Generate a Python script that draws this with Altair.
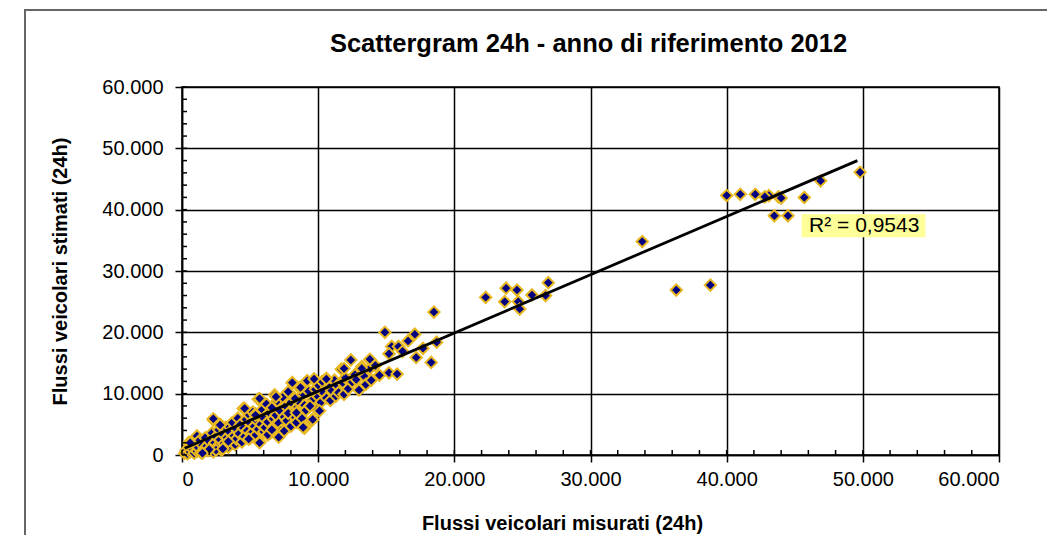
import altair as alt
import pandas as pd

# Measured (x) and estimated (y) 24h vehicle flows, in thousands of vehicles
misurati_k = [
    0.2, 0.3, 0.4, 0.5, 0.5, 0.6, 0.7, 0.8, 0.9, 1.0, 1.1, 1.1, 1.2, 1.3, 1.4, 1.5, 1.6, 1.7, 1.8, 1.9, 2.0,
    2.1, 2.2, 2.3, 2.3, 2.4, 2.5, 2.6, 2.7, 2.8, 2.8, 2.9, 3.0, 3.1, 3.2, 3.3, 3.4, 3.5, 3.5, 3.6, 3.7, 3.8, 3.9, 4.0, 4.0,
    4.1, 4.2, 4.3, 4.4, 4.5, 4.5, 4.6, 4.7, 4.8, 4.9, 5.0, 5.0, 5.1, 5.2, 5.3, 5.4, 5.4, 5.5, 5.6, 5.6, 5.7, 5.7, 5.8, 5.9, 6.0, 6.0,
    6.1, 6.2, 6.3, 6.4, 6.5, 6.6, 6.7, 6.8, 6.8, 6.9, 7.0, 7.1, 7.2, 7.3, 7.4, 7.5, 7.5, 7.6, 7.7, 7.8, 7.9, 8.0, 8.0,
    8.1, 8.2, 8.3, 8.4, 8.5, 8.6, 8.7, 8.8, 8.9, 9.0, 9.0, 9.1, 9.2, 9.3, 9.4, 9.5, 9.6, 9.6, 9.7, 9.8, 9.9, 10.0, 10.0,
    10.2, 10.3, 10.4, 10.6, 10.6, 10.8, 10.9, 11.0, 11.2, 11.3, 11.4, 11.5, 11.7, 11.8, 11.9, 12.0,
    12.2, 12.4, 12.5, 12.7, 12.8, 13.0, 13.2, 13.4, 13.5, 13.8, 13.8, 13.9,
    0.6, 2.3, 2.8, 4.6, 5.7, 6.9, 8.1, 8.7, 9.2, 9.7, 10.6, 11.9, 13.2, 8.9, 9.6, 5.7, 2.5, 7.8, 5.4, 9.4,
    3.4, 6.3, 7.1, 4.9, 2.0, 1.5, 3.0, 6.6, 8.4, 10.1,
    14.9, 17.1, 16.6, 15.4, 15.9, 18.7, 17.7, 15.2, 17.2, 18.3, 15.2, 15.8, 13.8, 18.5, 14.5, 16.2, 14.2,
    22.3, 23.8, 24.6, 23.7, 24.7, 24.8, 25.7, 26.7, 26.9,
    33.8, 36.3, 38.8,
    40.0, 41.0, 42.1, 43.1, 42.8, 43.8, 44.0, 45.7, 46.9, 49.8, 43.5, 44.5,
]
stimati_k = [
    0.3, 0.8, 0.2, 1.2, 2.0, 0.5, 1.5, 0.9, 0.3, 1.8, 3.1, 0.6, 1.2, 2.4, 0.4, 1.6, 0.9, 2.8, 1.4, 0.7, 2.2,
    1.1, 3.6, 5.7, 0.5, 2.0, 3.0, 1.4, 4.1, 5.0, 2.5, 0.8, 3.4, 1.9, 4.5, 2.8, 1.3, 4.6, 3.7, 2.3, 5.3, 3.1, 1.7, 4.2, 2.6,
    6.0, 3.5, 5.0, 2.1, 7.6, 4.4, 3.0, 5.8, 4.0, 6.6, 2.7, 5.2, 3.6, 7.0, 4.7, 6.7, 3.2, 5.6, 9.1, 4.2, 2.2, 6.3, 5.0, 7.4, 3.8, 6.0,
    4.5, 8.3, 5.4, 6.9, 3.6, 7.7, 5.9, 9.8, 4.8, 6.5, 8.8, 5.2, 7.2, 4.0, 9.4, 6.2, 3.9, 8.0, 5.6, 10.3, 7.0, 4.7, 8.6,
    11.8, 6.4, 9.2, 5.3, 7.8, 11.0, 8.4, 6.0, 9.9, 4.4, 8.1, 7.3, 12.1, 10.4, 8.0, 5.6, 9.0, 5.8, 12.3, 10.7, 7.5, 9.5, 11.4,
    8.6, 12.0, 10.1, 12.5, 9.3, 11.0, 8.9, 10.5, 12.2, 9.6, 11.3, 10.2, 14.0, 11.8, 9.9, 12.6,
    10.8, 15.5, 11.9, 13.1, 12.3, 10.6, 14.4, 12.8, 11.5, 15.5, 14.1, 12.2,
    2.0, 5.9, 4.9, 7.6, 9.2, 9.5, 11.8, 11.0, 12.1, 12.4, 12.4, 14.1, 14.1, 4.5, 5.8, 2.0, 0.8, 6.8, 6.5, 8.0,
    2.2, 3.3, 2.9, 2.6, 0.9, 0.3, 1.0, 4.1, 6.9, 7.2,
    20.0, 19.7, 18.6, 17.7, 17.7, 18.4, 17.4, 16.5, 15.9, 15.1, 13.4, 13.2, 15.6, 23.3, 13.0, 16.9, 14.6,
    25.7, 27.2, 26.9, 25.0, 25.0, 23.8, 26.1, 26.0, 28.1,
    34.8, 26.9, 27.7,
    42.3, 42.5, 42.5, 42.3, 42.1, 42.1, 41.9, 42.0, 44.7, 46.1, 39.0, 39.0,
]

# Linear trend line end points (thousands) and its R² label
trend_x_k = [0.2, 49.6]
trend_y_k = [1.1, 48.0]
r2_text = "R² = 0,9543"
r2_x_k, r2_y_k = 50.1, 37.4
r2_box_x_k = [45.5, 54.6]
r2_box_y_k = [39.3, 35.5]
title_text = "Scattergram 24h - anno di riferimento 2012"

axis_vals = [0, 10000, 20000, 30000, 40000, 50000, 60000]
minor_vals = list(range(0, 60001, 2000))

df = pd.DataFrame({"misurati": [v * 1000 for v in misurati_k],
                   "stimati": [v * 1000 for v in stimati_k]})
trend_df = pd.DataFrame({"misurati": [v * 1000 for v in trend_x_k],
                         "stimati": [v * 1000 for v in trend_y_k]})
label_df = pd.DataFrame({"misurati": [r2_x_k * 1000], "stimati": [r2_y_k * 1000], "t": [r2_text]})
box_df = pd.DataFrame({"x1": [r2_box_x_k[0] * 1000], "x2": [r2_box_x_k[1] * 1000],
                       "y1": [r2_box_y_k[0] * 1000], "y2": [r2_box_y_k[1] * 1000]})
minor_df = pd.DataFrame({"v": minor_vals})
title_df = pd.DataFrame({"t": [title_text]})

FONT = "Liberation Sans"
W, H = 817, 368
xs = alt.Scale(domain=[0, 60000], nice=False)
ys = alt.Scale(domain=[0, 60000], nice=False)
lab_expr = "replace(format(datum.value, ','), ',', '.')"

x_axis = alt.Axis(values=axis_vals, labelExpr=lab_expr, title="Flussi veicolari misurati (24h)",
                  tickSize=7, labelPadding=7, titlePadding=24, grid=True, titleX=380)
y_axis = alt.Axis(values=axis_vals, labelExpr=lab_expr, title="Flussi veicolari stimati (24h)",
                  tickSize=7, labelPadding=12, titlePadding=31, grid=True)

frame = alt.Chart(pd.DataFrame({"a": [0]})).mark_rect(
    filled=False, stroke="#666666", strokeWidth=2, clip=False
).encode(x=alt.value(-157), x2=alt.value(W + 200), y=alt.value(-77), y2=alt.value(H + 200))

title = alt.Chart(title_df).mark_text(
    font=FONT, fontSize=25.5, fontWeight="bold", color="black", align="center", baseline="middle"
).encode(x=alt.value(W / 2 - 2), y=alt.value(-43), text="t:N")

points = alt.Chart(df).mark_point(
    shape="diamond", filled=True, fill="#000080", stroke="#E8B820", strokeWidth=2,
    size=130, opacity=1
).encode(
    x=alt.X("misurati:Q", scale=xs, axis=x_axis),
    y=alt.Y("stimati:Q", scale=ys, axis=y_axis),
)

trend = alt.Chart(trend_df).mark_line(color="black", strokeWidth=2.8).encode(
    x=alt.X("misurati:Q", scale=xs), y=alt.Y("stimati:Q", scale=ys)
)

box = alt.Chart(box_df).mark_rect(fill="#FFFF99").encode(
    x=alt.X("x1:Q", scale=xs), x2="x2:Q", y=alt.Y("y1:Q", scale=ys), y2="y2:Q"
)
label = alt.Chart(label_df).mark_text(font=FONT, fontSize=21, color="black").encode(
    x=alt.X("misurati:Q", scale=xs), y=alt.Y("stimati:Q", scale=ys), text="t:N"
)

# minor ticks (every 2.000) drawn inside the axes
minor_x = alt.Chart(minor_df).mark_rule(color="black", strokeWidth=1.5).encode(
    x=alt.X("v:Q", scale=xs), y=alt.value(H - 5), y2=alt.value(H)
)
minor_y = alt.Chart(minor_df).mark_rule(color="black", strokeWidth=1.5).encode(
    y=alt.Y("v:Q", scale=ys), x=alt.value(0), x2=alt.value(5)
)

chart = alt.layer(frame, title, points, trend, box, label, minor_x, minor_y).properties(
    width=W, height=H,
    autosize="none",
    background="white",
    padding={"left": 174, "top": 79, "right": 48, "bottom": 80},
).configure_view(stroke="black", strokeWidth=1.5).configure_axis(
    labelFont=FONT, labelFontSize=20, labelColor="black",
    titleFont=FONT, titleFontSize=20, titleFontWeight="bold", titleColor="black",
    domainColor="black", domainWidth=1.5, tickColor="black", tickWidth=1.5,
    gridColor="black", gridWidth=1.5, gridOpacity=1,
)

chart.save("out.html", embed_options={"renderer": "svg", "actions": False})
